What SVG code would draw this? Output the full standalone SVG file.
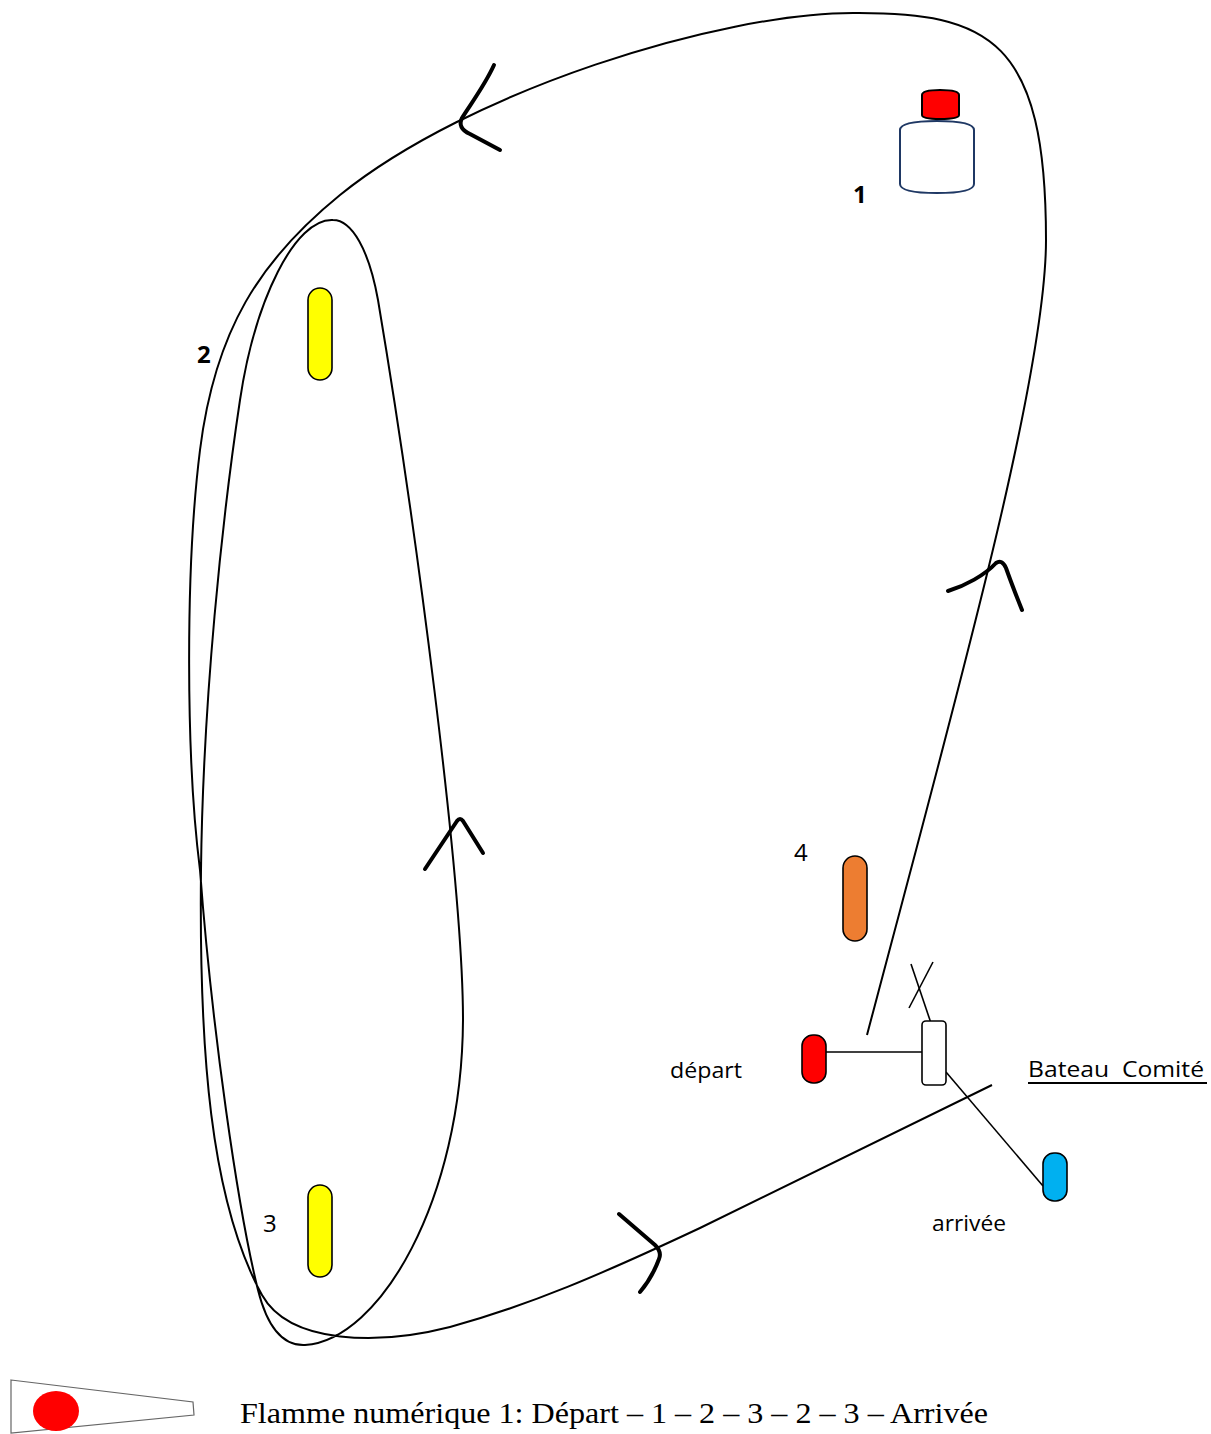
<svg xmlns="http://www.w3.org/2000/svg" width="1211" height="1434" viewBox="0 0 1211 1434">
<style>
.course{fill:none;stroke:#000;stroke-width:2}
.arrow{fill:none;stroke:#000;stroke-width:4;stroke-linecap:round;stroke-linejoin:round}
.thin{fill:none;stroke:#000;stroke-width:1.6}
.mark{stroke:#000;stroke-width:1.6}
.lbl{font-family:"Open Sans","Liberation Sans",sans-serif;font-size:21px;fill:#000}
.num{font-family:"Open Sans","Liberation Sans",sans-serif;font-size:24px;fill:#000}
.bold{font-weight:bold}
</style>
<rect width="1211" height="1434" fill="#fff"/>
<g id="connectors">
<path class="course" d="M867 1035 C950 720 1046 380 1046 240 C1046 40 990 12 853 13 C720 13 470 90 340 195 C260 260 215 330 200 450 C185 570 186 760 200 870 C212 1030 238 1210 258 1290 C268 1330 285 1346 305 1345 C380 1340 462 1200 463 1020 C463 880 415 520 378 300 C369 250 352 220 333 220 C295 218 255 300 240 400 C222 520 203 700 201 870 C199 1050 210 1200 262 1295 C290 1345 380 1345 450 1327 C530 1305 600 1275 700 1228 L992 1085"/>
<path class="arrow" d="M494 65 C485 85 470 105 462 118 Q457 128 470 134 L500 150"/>
<path class="arrow" d="M948 591 C965 586 985 575 996 563 Q1002 559 1006 568 C1012 585 1018 600 1022 610"/>
<path class="arrow" d="M425 869 L457 821 Q460 817 463 821 L483 853"/>
<path class="arrow" d="M619 1214 L655 1245 Q662 1252 659 1259 Q652 1278 640 1292"/>
<line class="thin" x1="826" y1="1052" x2="922" y2="1052"/>
<line class="thin" x1="946" y1="1072" x2="1043" y2="1186"/>
<line class="thin" x1="911" y1="964" x2="935" y2="1035"/>
<line class="thin" x1="933" y1="962" x2="909" y2="1008"/>
</g>
<g id="mark1">
<path d="M900 130 Q900 121 937 121 Q974 121 974 130 L974 184 Q974 193 937 193 Q900 193 900 184 Z" fill="#fff" stroke="#1F3864" stroke-width="2"/>
<path d="M922 95 Q922 90 940 90 Q959 90 959 95 L959 115 Q959 119 940 119 Q922 119 922 115 Z" fill="#f00" stroke="#000" stroke-width="2"/>
<text class="num bold" x="853" y="203">1</text>
</g>
<g id="mark2">
<rect class="mark" x="308" y="288" width="24" height="92" rx="12" fill="#ff0"/>
<text class="num bold" x="197" y="363">2</text>
</g>
<g id="mark3">
<rect class="mark" x="308" y="1185" width="24" height="92" rx="12" fill="#ff0"/>
<text class="num" x="263" y="1232">3</text>
</g>
<g id="mark4">
<rect class="mark" x="843" y="856" width="24" height="85" rx="12" fill="#ED7D31"/>
<text class="num" x="794" y="861">4</text>
</g>
<g id="depart">
<rect class="mark" x="802" y="1035" width="24" height="48" rx="11" fill="#f00"/>
<text class="lbl" x="670" y="1078" textLength="72" lengthAdjust="spacingAndGlyphs">départ</text>
</g>
<g id="bateau">
<rect class="mark" x="922" y="1021" width="24" height="64" rx="4" fill="#fff"/>
<text class="lbl" x="1028" y="1077" xml:space="preserve" textLength="176" lengthAdjust="spacingAndGlyphs">Bateau  Comité</text>
<rect x="1028" y="1082" width="179" height="2" fill="#000"/>
</g>
<g id="arrivee">
<rect class="mark" x="1043" y="1153" width="24" height="48" rx="11" fill="#00B0F0"/>
<text class="lbl" x="932" y="1231" textLength="74" lengthAdjust="spacingAndGlyphs">arrivée</text>
</g>
<g id="flamme">
<polygon points="11,1380 193,1402 194,1415 11,1433" fill="#fff" stroke="#666" stroke-width="1.2"/>
<ellipse cx="56" cy="1411" rx="23" ry="20" fill="#f00"/>
<text x="240" y="1423" font-family="'Liberation Serif',serif" font-size="29" textLength="748" lengthAdjust="spacingAndGlyphs">Flamme numérique 1: Départ – 1 – 2 – 3 – 2 – 3 – Arrivée</text>
</g>
</svg>
